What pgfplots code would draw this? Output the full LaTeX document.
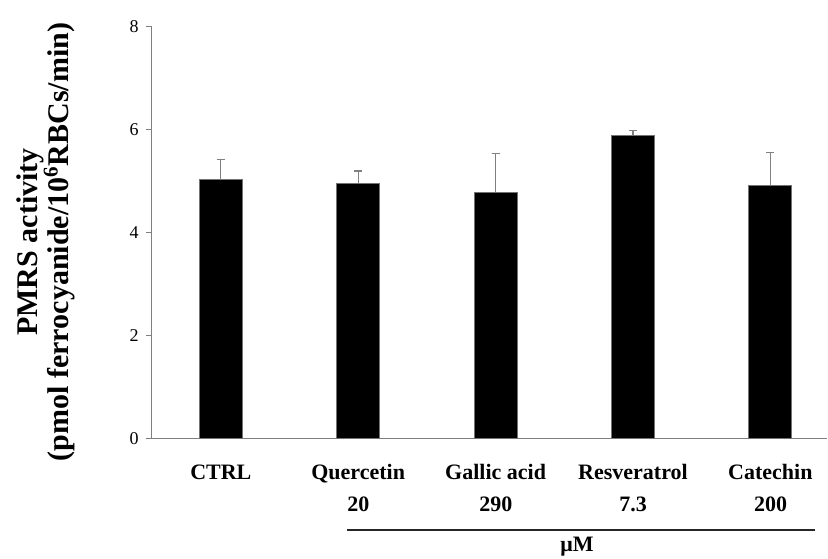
\documentclass[border=0pt]{standalone}
\usepackage{pgfplots}
\pgfplotsset{compat=1.18}
\usepackage{fontspec}
\setmainfont{Liberation Serif}
\definecolor{axisgray}{HTML}{7F7F7F}
\definecolor{errgray}{HTML}{808080}
\begin{document}
\begin{tikzpicture}
\path[use as bounding box] (0pt,0pt) rectangle (414pt,-279pt);
\begin{axis}[
  at={(75.85pt,-219.15pt)}, anchor=south west,
  scale only axis, width=337.65pt, height=206pt,
  xmin=-0.503, xmax=4.412, ymin=0, ymax=8,
  axis lines*=left,
  axis line style={axisgray, line width=0.75pt},
  every outer x axis line/.append style={-}, every outer y axis line/.append style={-},
  xtick={0,1,2,3,4},
  xticklabels={CTRL,Quercetin,Gallic acid,Resveratrol,Catechin},
  x tick style={draw=none},
  xticklabel style={anchor=base, yshift=-17.5pt, inner sep=0pt, font=\fontsize{11}{13}\selectfont\bfseries},
  ytick={0,2,4,6,8},
  y tick style={axisgray, line width=0.6pt},
  tick align=outside, major tick length=3pt,
  yticklabel style={anchor=east, inner sep=0pt, xshift=-3.3pt, font=\fontsize{9}{10}\selectfont},
  /pgf/number format/assume math mode=true,
  ybar, bar width=21.5pt,
]
\addplot[fill=black, draw=black!55, line width=0.5pt, bar shift=0pt,
  error bars/.cd, y dir=plus, y explicit,
  error bar style={errgray, line width=0.6pt},
  error mark options={rotate=90, errgray, mark size=2pt, line width=0.6pt}]
  coordinates {
    (0,5.02) +- (0,0.39)
    (1,4.95) +- (0,0.24)
    (2,4.78) +- (0,0.75)
    (3,5.88) +- (0,0.09)
    (4,4.91) +- (0,0.64)
  };
\end{axis}
% axis title, two lines, rotated
\node[rotate=90, anchor=base, inner sep=0pt, font=\fontsize{15}{17}\selectfont\bfseries] at (18.5pt,-121pt) {PMRS activity};
\node[rotate=90, anchor=base, inner sep=0pt, font=\fontsize{15}{17}\selectfont\bfseries] at (34pt,-121pt) {(pmol ferrocyanide/10\textsuperscript{6}RBCs/min)};
% concentrations
\begin{scope}[every node/.style={anchor=base, inner sep=0pt, font=\fontsize{11}{13}\selectfont\bfseries}]
\node at (179.15pt,-255.85pt) {20};
\node at (247.9pt,-255.85pt) {290};
\node at (316.6pt,-255.85pt) {7.3};
\node at (385.25pt,-255.85pt) {200};
\draw[black!85, line width=0.8pt] (173.5pt,-265pt) -- (407.5pt,-265pt);
\node at (288.5pt,-275.5pt) {μM};
\end{scope}
\end{tikzpicture}
\end{document}
